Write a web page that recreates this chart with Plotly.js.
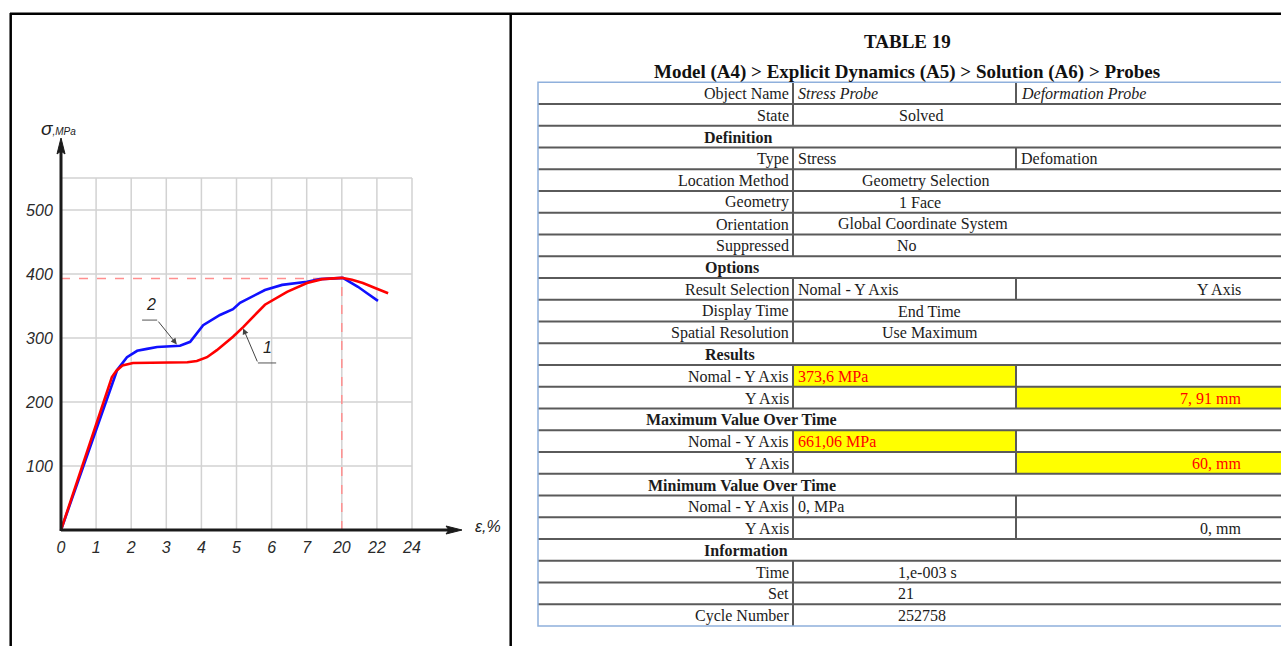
<!DOCTYPE html>
<html><head><meta charset="utf-8">
<script src="https://cdn.plot.ly/plotly-3.0.1.min.js"></script>
<style>html,body{margin:0;padding:0;background:#fff;overflow:hidden}#chart{width:1281px;height:646px}</style>
</head><body><div id="chart"></div>
<script>
// ---------- chart data ----------
const strainTickLabels = ['0','1','2','3','4','5','6','7','20','22','24'];
const strainTickPos = [0,1,2,3,4,5,6,7,8,9,10];       // equally spaced axis slots
const stressTickVals = [100,200,300,400,500];
const stressGridVals = [100,200,300,400,500,550];
// curve 1 (red) and curve 2 (blue); x given as axis slot position
const curve1X = [0,1.45,1.58,1.75,2.05,2.55,3.6,3.87,4.16,4.44,4.9,5.19,5.81,6.44,7.01,7.44,8.0,8.29,8.6,9.0,9.32];
const curve1Y = [0,239,249,257,261,261,262,264,270,281,302,317,352,372,386,392,394,391,386,377,370];
const curve2X = [0,1.5,1.6,1.88,2.17,2.45,2.74,3.39,3.68,4.05,4.53,4.9,5.1,5.81,6.3,7.01,7.38,8.03,8.23,8.46,8.72,9.03];
const curve2Y = [0,236,250,270,280,283,286,288,294,320,336,345,355,375,383,388,392,394,388,380,370,358];
const peakX = 8, peakY = 393;

// ---------- table data ----------
const tableTitle = 'TABLE 19';
const tableSubtitle = 'Model (A4) &gt; Explicit Dynamics (A5) &gt; Solution (A6) &gt; Probes';
const rowKinds = ['s','m','h','s','m','m','m','m','h','s','m','m','h','s','s','h','s','s','h','s','s','h','m','m','m'];
const rowLabels = ['Object Name','State','Definition','Type','Location Method','Geometry','Orientation','Suppressed',
  'Options','Result Selection','Display Time','Spatial Resolution','Results','Nomal - Y Axis','Y Axis',
  'Maximum Value Over Time','Nomal - Y Axis','Y Axis','Minimum Value Over Time','Nomal - Y Axis','Y Axis',
  'Information','Time','Set','Cycle Number'];
const col2Values = ['Stress Probe','Solved','','Stress','Geometry Selection','1 Face','Global Coordinate System','No',
  '','Nomal - Y Axis','End Time','Use Maximum','','373,6 MPa','','','661,06 MPa','','','0, MPa','','','1,e-003 s','21','252758'];
const col3Values = ['Deformation Probe','','','Defomation','','','','','','Y Axis','','','','','7, 91 mm','','','60, mm','','','0, mm','','','',''];
const highlightCells = [[13,2],[14,3],[16,2],[17,3]];

// ---------- layout helpers (pixel geometry) ----------
const W = 1281, H = 646;
const PX = p => p / W, PY = p => 1 - p / H;
const rowTop0 = 82.3, rowH = 21.75;
const colX = {left:538, c1:793, c2:1016, right:1300};
const col2TextLeft = {1:897,4:860,5:897,6:836,7:895,10:896,11:880,22:896,23:896,24:896};
const headerLeft = {2:702,8:703,12:703,15:644,18:646,21:702};

const serif = 'Liberation Serif, Times New Roman, serif';
const sans = 'Liberation Sans, Arial, sans-serif';
const txtCol = '#1b1b1b';
const axisCol = '#1a1a1a';

const shapes = [], annotations = [];

// grid (data coordinates, from tick arrays)
strainTickPos.forEach(x => shapes.push({type:'line',xref:'x',yref:'y',x0:x,x1:x,y0:0,y1:550,layer:'below',line:{color:'#d2d2d2',width:1.5}}));
stressGridVals.forEach(y => shapes.push({type:'line',xref:'x',yref:'y',x0:0,x1:10,y0:y,y1:y,layer:'below',line:{color:'#d2d2d2',width:1.5}}));
// dashed peak guides
shapes.push({type:'line',xref:'x',yref:'y',x0:0,x1:peakX,y0:peakY,y1:peakY,layer:'below',line:{color:'#ff8f8f',width:1.5,dash:'dash'}});
shapes.push({type:'line',xref:'x',yref:'y',x0:peakX,x1:peakX,y0:0,y1:peakY,layer:'below',line:{color:'#ff8f8f',width:1.5,dash:'dash'}});
// leader underlines
shapes.push({type:'line',xref:'x',yref:'y',x0:2.31,x1:2.74,y0:328,y1:328,line:{color:'#555',width:1}});
shapes.push({type:'line',xref:'x',yref:'y',x0:5.61,x1:6.13,y0:261,y1:261,line:{color:'#555',width:1}});

// axis lines with arrowheads (pixel geometry of the drawing)
shapes.push({type:'line',xref:'paper',yref:'paper',x0:PX(61),x1:PX(452),y0:PY(530),y1:PY(530),line:{color:axisCol,width:3}});
shapes.push({type:'path',xref:'paper',yref:'paper',path:`M${PX(462)},${PY(530)} L${PX(446)},${PY(526)} L${PX(449)},${PY(530)} L${PX(446)},${PY(534)} Z`,fillcolor:axisCol,line:{color:axisCol,width:1}});
shapes.push({type:'line',xref:'paper',yref:'paper',x0:PX(61),x1:PX(61),y0:PY(531),y1:PY(148),line:{color:axisCol,width:3}});
shapes.push({type:'path',xref:'paper',yref:'paper',path:`M${PX(61)},${PY(138)} L${PX(57)},${PY(154)} L${PX(61)},${PY(151)} L${PX(65)},${PY(154)} Z`,fillcolor:axisCol,line:{color:axisCol,width:1}});

// frame of the figure
shapes.push({type:'line',xref:'paper',yref:'paper',x0:PX(10),x1:PX(1290),y0:PY(13.7),y1:PY(13.7),line:{color:'#000',width:2.5}});
shapes.push({type:'line',xref:'paper',yref:'paper',x0:PX(10.7),x1:PX(10.7),y0:PY(13),y1:PY(660),line:{color:'#000',width:2.5}});
shapes.push({type:'line',xref:'paper',yref:'paper',x0:PX(510.7),x1:PX(510.7),y0:PY(13),y1:PY(660),line:{color:'#000',width:2.5}});

// table: highlight fills
const rowY = i => rowTop0 + i * rowH;
highlightCells.forEach(([r,c]) => {
  const x0 = c === 2 ? colX.c1 : colX.c2, x1 = c === 2 ? colX.c2 : colX.right;
  shapes.push({type:'rect',xref:'paper',yref:'paper',x0:PX(x0),x1:PX(x1),y0:PY(rowY(r)),y1:PY(rowY(r+1)),line:{width:0},fillcolor:'#ffff00'});
});
// table: inner lines
for (let k = 1; k < rowKinds.length; k++) {
  shapes.push({type:'line',xref:'paper',yref:'paper',x0:PX(colX.left),x1:PX(colX.right),y0:PY(rowY(k)),y1:PY(rowY(k)),line:{color:'#5a5a5a',width:2}});
}
rowKinds.forEach((k,i) => {
  if (k !== 'h') shapes.push({type:'line',xref:'paper',yref:'paper',x0:PX(colX.c1),x1:PX(colX.c1),y0:PY(rowY(i)),y1:PY(rowY(i+1)),line:{color:'#5a5a5a',width:2}});
  if (k === 's') shapes.push({type:'line',xref:'paper',yref:'paper',x0:PX(colX.c2),x1:PX(colX.c2),y0:PY(rowY(i)),y1:PY(rowY(i+1)),line:{color:'#5a5a5a',width:2}});
});
shapes.push({type:'rect',xref:'paper',yref:'paper',x0:PX(colX.left),x1:PX(colX.right),y0:PY(rowY(0)),y1:PY(rowY(rowKinds.length)),line:{color:'#8fb0dc',width:1.5}});

// table titles
annotations.push({xref:'paper',yref:'paper',x:PX(907),y:PY(42),text:'<b>'+tableTitle+'</b>',showarrow:false,xanchor:'center',yanchor:'middle',font:{family:serif,size:19,color:'#111'}});
annotations.push({xref:'paper',yref:'paper',x:PX(907),y:PY(72),text:'<b>'+tableSubtitle+'</b>',showarrow:false,xanchor:'center',yanchor:'middle',font:{family:serif,size:19,color:'#111'}});

// table text
rowKinds.forEach((k,i) => {
  const yc = PY(rowY(i) + rowH/2 + 0.5);
  if (k === 'h') {
    annotations.push({xref:'paper',yref:'paper',x:PX(headerLeft[i]),y:yc,text:'<b>'+rowLabels[i]+'</b>',showarrow:false,xanchor:'left',yanchor:'middle',font:{family:serif,size:16,color:txtCol}});
    return;
  }
  annotations.push({xref:'paper',yref:'paper',x:PX(791),y:yc,text:rowLabels[i],showarrow:false,xanchor:'right',yanchor:'middle',font:{family:serif,size:16,color:txtCol}});
  const hl2 = highlightCells.some(([r,c]) => r === i && c === 2);
  const hl3 = highlightCells.some(([r,c]) => r === i && c === 3);
  const wrap = s => i === 0 ? '<i>'+s+'</i>' : s;
  if (col2Values[i]) {
    const left = k === 'm' ? col2TextLeft[i] : 796;
    annotations.push({xref:'paper',yref:'paper',x:PX(left),y:yc,text:wrap(col2Values[i]),showarrow:false,xanchor:'left',yanchor:'middle',font:{family:serif,size:16,color:hl2?'#ff0000':txtCol}});
  }
  if (col3Values[i]) {
    const rightAligned = i !== 0 && i !== 3;
    annotations.push({xref:'paper',yref:'paper',x:PX(rightAligned?1243:1019),y:yc,text:wrap(col3Values[i]),showarrow:false,xanchor:rightAligned?'right':'left',yanchor:'middle',font:{family:serif,size:16,color:hl3?'#ff0000':txtCol}});
  }
});

// axis names
annotations.push({xref:'x',yref:'y',x:11.75,y:6,text:'<i>ε,%</i>',showarrow:false,xanchor:'left',yanchor:'middle',font:{family:sans,size:16,color:'#222'}});
annotations.push({xref:'x',yref:'y',x:-0.64,y:628,text:'<i>σ</i><i><span style="font-size:10px">,MPa</span></i>',showarrow:false,xanchor:'left',yanchor:'middle',font:{family:sans,size:19,color:'#222'}});
// curve labels with leaders
annotations.push({xref:'x',yref:'y',x:2.55,y:336,text:'<i>2</i>',showarrow:false,xanchor:'center',yanchor:'bottom',font:{family:sans,size:16,color:'#222'}});
annotations.push({xref:'x',yref:'y',axref:'x',ayref:'y',x:3.3,y:290,ax:2.74,ay:328,text:'',showarrow:true,arrowhead:2,arrowsize:1.2,arrowwidth:1,arrowcolor:'#444'});
annotations.push({xref:'x',yref:'y',x:5.88,y:269,text:'<i>1</i>',showarrow:false,xanchor:'center',yanchor:'bottom',font:{family:sans,size:16,color:'#222'}});
annotations.push({xref:'x',yref:'y',axref:'x',ayref:'y',x:5.19,y:315,ax:5.61,ay:261,text:'',showarrow:true,arrowhead:2,arrowsize:1.2,arrowwidth:1,arrowcolor:'#444'});

const traces = [
  {x:curve2X,y:curve2Y,mode:'lines',name:'2',line:{color:'#1010ff',width:2.6},hoverinfo:'x+y'},
  {x:curve1X,y:curve1Y,mode:'lines',name:'1',line:{color:'#ff0000',width:2.6},hoverinfo:'x+y'}
];

const italicize = arr => arr.map(s => '<i>' + s + '</i>');
const layout = {
  width:W,height:H,margin:{l:0,r:0,t:0,b:0},paper_bgcolor:'#fff',plot_bgcolor:'rgba(0,0,0,0)',showlegend:false,
  xaxis:{domain:[8.35/W,499.75/W],range:[-1.5,12.5],anchor:'free',position:(H-530)/H,showgrid:false,zeroline:false,showline:false,
    tickmode:'array',tickvals:strainTickPos,ticktext:italicize(strainTickLabels),ticks:'outside',ticklen:3,tickcolor:'rgba(0,0,0,0)',
    tickfont:{family:sans,size:16,color:'#2a2a2a'},fixedrange:true},
  yaxis:{domain:[(H-645.2)/H,(H-120.4)/H],range:[-180,640],anchor:'free',position:61/W,showgrid:false,zeroline:false,showline:false,
    tickmode:'array',tickvals:stressTickVals,ticktext:italicize(stressTickVals.map(String)),ticks:'outside',ticklen:5,tickcolor:'rgba(0,0,0,0)',
    tickfont:{family:sans,size:16,color:'#2a2a2a'},fixedrange:true},
  shapes:shapes,annotations:annotations
};
Plotly.newPlot('chart',traces,layout,{displayModeBar:false,staticPlot:true});
</script></body></html>
